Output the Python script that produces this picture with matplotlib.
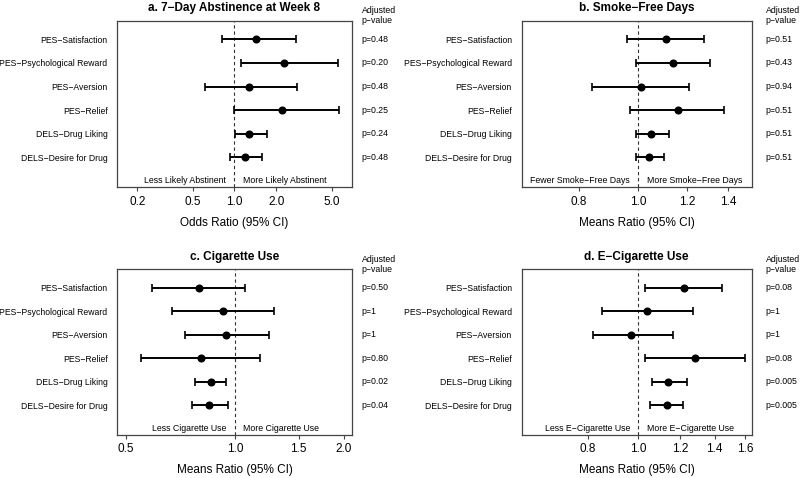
import matplotlib
matplotlib.use("Agg")
import matplotlib.pyplot as plt
from matplotlib.ticker import FixedLocator, FixedFormatter, NullLocator
import matplotlib.transforms as mtransforms

plt.rcParams['font.family'] = ['Liberation Sans', 'DejaVu Sans']

labels = ["PES\u2212Satisfaction", "PES\u2212Psychological Reward", "PES\u2212Aversion",
          "PES\u2212Relief", "DELS\u2212Drug Liking", "DELS\u2212Desire for Drug"]

# Panel a
a_est = [1.44, 2.29, 1.28, 2.20, 1.28, 1.20]
a_lo = [0.815, 1.12, 0.615, 1.00, 1.01, 0.93]
a_hi = [2.75, 5.54, 2.81, 5.63, 1.72, 1.57]
a_p = ["p=0.48", "p=0.20", "p=0.48", "p=0.25", "p=0.24", "p=0.48"]
a_ticks = [0.2, 0.5, 1.0, 2.0, 5.0]
a_ticklabels = ["0.2", "0.5", "1.0", "2.0", "5.0"]

# Panel b
b_est = [1.11, 1.14, 1.01, 1.16, 1.05, 1.04]
b_lo = [0.958, 0.99, 0.839, 0.970, 0.99, 0.99]
b_hi = [1.28, 1.31, 1.21, 1.38, 1.12, 1.10]
b_p = ["p=0.51", "p=0.43", "p=0.94", "p=0.51", "p=0.51", "p=0.51"]
b_ticks = [0.8, 1.0, 1.2, 1.4]
b_ticklabels = ["0.8", "1.0", "1.2", "1.4"]

# Panel c
c_est = [0.797, 0.927, 0.946, 0.807, 0.857, 0.846]
c_lo = [0.591, 0.668, 0.727, 0.551, 0.777, 0.759]
c_hi = [1.068, 1.28, 1.239, 1.175, 0.946, 0.956]
c_p = ["p=0.50", "p=1", "p=1", "p=0.80", "p=0.02", "p=0.04"]
c_ticks = [0.5, 1.0, 1.5, 2.0]
c_ticklabels = ["0.5", "1.0", "1.5", "2.0"]

# Panel d
d_est = [1.223, 1.040, 0.968, 1.283, 1.141, 1.133]
d_lo = [1.030, 0.850, 0.817, 1.030, 1.064, 1.053]
d_hi = [1.448, 1.274, 1.163, 1.60, 1.241, 1.217]
d_p = ["p=0.08", "p=1", "p=1", "p=0.08", "p=0.005", "p=0.005"]
d_ticks = [0.8, 1.0, 1.2, 1.4, 1.6]
d_ticklabels = ["0.8", "1.0", "1.2", "1.4", "1.6"]

panels = [
    dict(title="a. 7\u2212Day Abstinence at Week 8", est=a_est, lo=a_lo, hi=a_hi, p=a_p,
         ticks=a_ticks, tl=a_ticklabels, xlim=(0.1435, 6.97), xlabel="Odds Ratio (95% CI)",
         left_txt="Less Likely Abstinent", right_txt="More Likely Abstinent",
         pos=[0.1466, 0.6082, 0.293, 0.3485], px=361.7),
    dict(title="b. Smoke\u2212Free Days", est=b_est, lo=b_lo, hi=b_hi, p=b_p,
         ticks=b_ticks, tl=b_ticklabels, xlim=(0.645, 1.53), xlabel="Means Ratio (95% CI)",
         left_txt="Fewer Smoke\u2212Free Days", right_txt="More Smoke\u2212Free Days",
         pos=[0.6521, 0.6082, 0.2875, 0.3485], px=765.7),
    dict(title="c. Cigarette Use", est=c_est, lo=c_lo, hi=c_hi, p=c_p,
         ticks=c_ticks, tl=c_ticklabels, xlim=(0.473, 2.10), xlabel="Means Ratio (95% CI)",
         left_txt="Less Cigarette Use", right_txt="More Cigarette Use",
         pos=[0.1466, 0.090, 0.293, 0.3466], px=361.7),
    dict(title="d. E\u2212Cigarette Use", est=d_est, lo=d_lo, hi=d_hi, p=d_p,
         ticks=d_ticks, tl=d_ticklabels, xlim=(0.598, 1.647), xlabel="Means Ratio (95% CI)",
         left_txt="Less E\u2212Cigarette Use", right_txt="More E\u2212Cigarette Use",
         pos=[0.6521, 0.090, 0.2875, 0.3466], px=765.7),
]

fig = plt.figure(figsize=(8, 4.78), dpi=100)
ys = [6, 5, 4, 3, 2, 1]
for P in panels:
    ax = fig.add_axes(P["pos"])
    ax.set_xscale("log")
    ax.set_xlim(*P["xlim"])
    ax.set_ylim(-0.27, 6.79)
    ax.axvline(1.0, color="#333333", lw=0.8, ls=(0, (3, 2.5)), zorder=1)
    est = P["est"]
    lo = [e - l for e, l in zip(est, P["lo"])]
    hi = [h - e for e, h in zip(est, P["hi"])]
    ax.errorbar(est, ys, xerr=[lo, hi], fmt="o", color="black", ms=4.8,
                elinewidth=1.4, capsize=2.6, capthick=1.2, zorder=3)
    ax.set_yticks(ys)
    ax.set_yticklabels(labels, fontsize=6.2)
    ax.tick_params(axis="y", length=0, pad=7)
    ax.xaxis.set_major_locator(FixedLocator(P["ticks"]))
    ax.xaxis.set_major_formatter(FixedFormatter(P["tl"]))
    ax.xaxis.set_minor_locator(NullLocator())
    ax.tick_params(axis="x", length=3, width=0.8, labelsize=8.5, pad=3, color="#444444")
    for s in ax.spines.values():
        s.set_color("#444444")
        s.set_linewidth(0.9)
    ax.set_xlabel(P["xlabel"], fontsize=8.5, labelpad=6.5)
    ax.set_title(P["title"], fontsize=8.5, fontweight="bold", pad=7)
    ax.annotate(P["left_txt"], xy=(1.0, 0.0), xytext=(-6, 0), textcoords="offset points",
                ha="right", va="center", fontsize=6.3)
    ax.annotate(P["right_txt"], xy=(1.0, 0.0), xytext=(6, 0), textcoords="offset points",
                ha="left", va="center", fontsize=6.3)
    # p-values
    xfig = P["px"] / 800.0
    trans = mtransforms.blended_transform_factory(fig.transFigure, ax.transData)
    for y, p in zip(ys, P["p"]):
        ax.text(xfig, y, p, transform=trans, ha="left", va="center", fontsize=6.3, clip_on=False)
    ax.text(xfig, 7.0, "Adjusted\np\u2212value", transform=trans, ha="left", va="center",
            fontsize=6.3, linespacing=1.15, clip_on=False)

fig.savefig("out.png", dpi=100)
